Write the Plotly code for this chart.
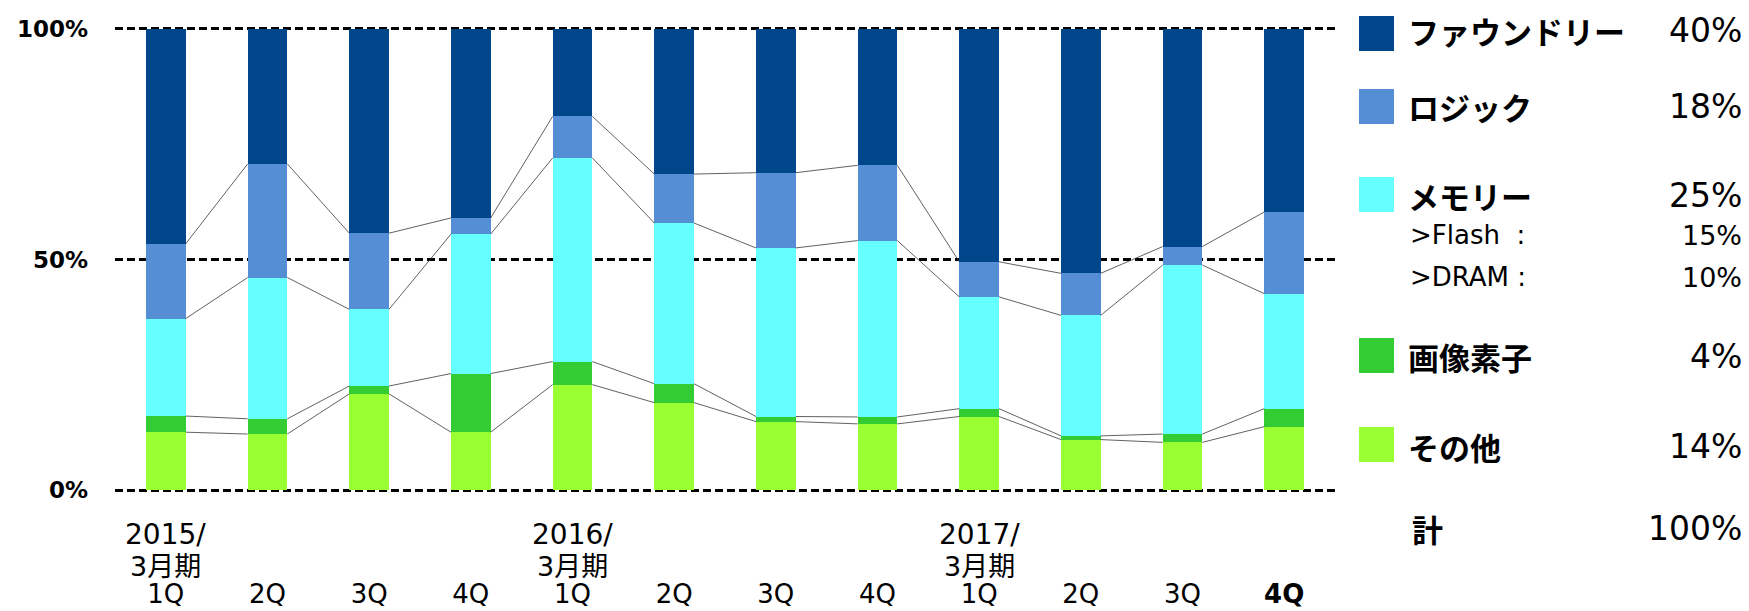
import numpy as np
import plotly.graph_objects as go

# ---- data ----
quarters = ["1Q", "2Q", "3Q", "4Q", "1Q", "2Q", "3Q", "4Q", "1Q", "2Q", "3Q", "4Q"]
year_labels = {0: ("2015/", "3月期"), 4: ("2016/", "3月期"), 8: ("2017/", "3月期")}
other   = [12.6, 12.2, 20.9, 12.6, 22.9, 19.0, 14.9, 14.4, 16.0, 11.0, 10.4, 13.8]
image   = [3.5, 3.3, 1.7, 12.7, 5.0, 4.1, 1.1, 1.5, 1.7, 0.8, 1.8, 3.9]
memory  = [21.1, 30.6, 16.6, 30.2, 44.1, 34.8, 36.5, 38.2, 24.2, 26.1, 36.6, 24.9]
logic   = [16.2, 24.6, 16.5, 3.5, 9.0, 10.6, 16.3, 16.3, 7.6, 9.1, 4.0, 17.7]
foundry = [46.6, 29.3, 44.3, 41.0, 19.0, 31.5, 31.2, 29.6, 50.5, 53.0, 47.2, 39.7]

series_names = ["その他", "画像素子", "メモリー", "ロジック", "ファウンドリー"]
series_vals = [other, image, memory, logic, foundry]
series_colors = ["#99FF33", "#33CC33", "#66FFFF", "#558ED5", "#00468B"]

legend_rows = ["ファウンドリー", "ロジック", "メモリー", "画像素子", "その他"]
legend_colors = ["#00468B", "#558ED5", "#66FFFF", "#33CC33", "#99FF33"]
legend_pcts = ["40%", "18%", "25%", "4%", "14%"]
memory_sub = [(">Flash  :", "15%"), (">DRAM :", "10%")]
total_label, total_pct = "計", "100%"

# ---- layout geometry (page body has an 8px default margin) ----
OFF = 8
W, H = 1741, 603
L, R, T, B = 107, 414, 16, 116
PW, PH = W - L - R, H - T - B
BAR_W = 0.39

def py(p):  # screen pixel y -> paper
    return (H - B - (p - OFF)) / PH

def px(p):  # screen pixel x -> paper
    return ((p - OFF) - L) / PW

x = np.arange(len(quarters))
fig = go.Figure()
for name, vals, col in zip(series_names, series_vals, series_colors):
    fig.add_trace(go.Bar(x=x, y=vals, name=name, marker=dict(color=col, line=dict(width=0)),
                         width=BAR_W, showlegend=False))

# connector lines between bar boundaries
cum = np.cumsum(np.array(series_vals[:-1]), axis=0)
lx, ly = [], []
for level in cum:
    for i in range(len(x) - 1):
        lx += [x[i] + BAR_W / 2, x[i + 1] - BAR_W / 2, None]
        ly += [level[i], level[i + 1], None]
fig.add_trace(go.Scatter(x=lx, y=ly, mode="lines", line=dict(color="#3a3a3a", width=0.8),
                         hoverinfo="skip", showlegend=False))

ticktext = [q for q in quarters]
ticktext[-1] = "<b>" + ticktext[-1] + "</b>"

fig.update_layout(
    width=W, height=H, barmode="stack",
    margin=dict(l=L, r=R, t=T, b=B, pad=0),
    paper_bgcolor="white", plot_bgcolor="white",
    font=dict(family="DejaVu Sans, Noto Sans CJK JP", color="black"),
    xaxis=dict(range=[-0.5, 11.5], tickvals=list(x), ticktext=ticktext,
               showgrid=False, zeroline=False, showline=False, ticks="",
               tickfont=dict(size=26, family="DejaVu Sans, Noto Sans CJK JP"),
               ticklabelstandoff=81, automargin=False),
    yaxis=dict(range=[-1, 101], tickvals=[0, 50, 100],
               ticktext=["<b>0%</b>", "<b>50%</b>", "<b>100%</b>"],
               showgrid=True, gridcolor="black", gridwidth=2.5, griddash="8px,4px",
               zeroline=False, showline=False, ticks="",
               tickfont=dict(size=23, family="DejaVu Sans"),
               ticklabelstandoff=26, automargin=False),
)

# year labels under the first quarter of each fiscal year
for xi, (yl, fl) in year_labels.items():
    fig.add_annotation(x=xi, xref="x", y=py(534), yref="paper", text=yl, showarrow=False,
                       xanchor="center", yanchor="middle",
                       font=dict(size=28, family="DejaVu Sans"))
    fig.add_annotation(x=xi, xref="x", y=py(566), yref="paper", text=fl, showarrow=False,
                       xanchor="center", yanchor="middle",
                       font=dict(size=27, family="DejaVu Sans, Noto Sans CJK JP"))

# custom legend
sq_top = [16, 89, 177, 338, 427]
row_c = [30, 107, 195, 356, 446]
for name, col, pct, top, c in zip(legend_rows, legend_colors, legend_pcts, sq_top, row_c):
    fig.add_shape(type="rect", xref="paper", yref="paper",
                  x0=px(1359), x1=px(1394), y0=py(top + 35), y1=py(top),
                  fillcolor=col, line=dict(width=0))
    fig.add_annotation(x=px(1406), xref="paper", y=py(c), yref="paper", text="<b>" + name + "</b>",
                       showarrow=False, xanchor="left", yanchor="middle",
                       font=dict(size=31, family="Noto Sans CJK JP"))
    fig.add_annotation(x=px(1744), xref="paper", y=py(c), yref="paper", text=pct,
                       showarrow=False, xanchor="right", yanchor="middle",
                       font=dict(size=33, family="DejaVu Sans"))
for (lab, pct), c in zip(memory_sub, [235, 277]):
    fig.add_annotation(x=px(1408), xref="paper", y=py(c), yref="paper", text=lab,
                       showarrow=False, xanchor="left", yanchor="middle",
                       font=dict(size=26, family="DejaVu Sans"))
    fig.add_annotation(x=px(1744), xref="paper", y=py(c), yref="paper", text=pct,
                       showarrow=False, xanchor="right", yanchor="middle",
                       font=dict(size=27, family="DejaVu Sans"))
fig.add_annotation(x=px(1410), xref="paper", y=py(528), yref="paper", text="<b>" + total_label + "</b>",
                   showarrow=False, xanchor="left", yanchor="middle",
                   font=dict(size=31, family="Noto Sans CJK JP"))
fig.add_annotation(x=px(1744), xref="paper", y=py(528), yref="paper", text=total_pct,
                   showarrow=False, xanchor="right", yanchor="middle",
                   font=dict(size=33, family="DejaVu Sans"))

fig.write_html("out.html")
